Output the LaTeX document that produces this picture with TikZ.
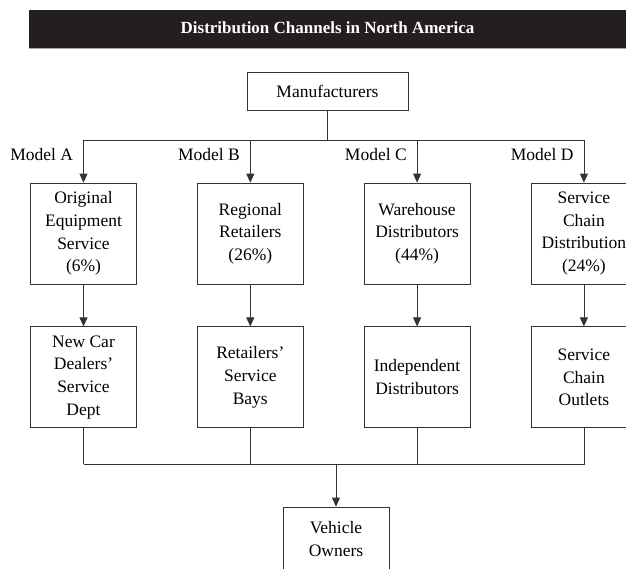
\documentclass[tikz,border=0pt]{standalone}
\usepackage{fontspec}
\setmainfont{Liberation Serif}
\usetikzlibrary{arrows.meta,positioning}
\definecolor{titlebar}{HTML}{231F20}
\begin{document}
\begin{tikzpicture}[x=1pt,y=-1pt]
        \tikzset{
            box/.style={draw=black!80, line width=0.8pt, align=center, inner sep=2pt,
              minimum width=106pt, minimum height=101pt,
              font=\fontsize{17.5}{22.6}\selectfont},
            wire/.style={draw=black!80, line width=0.8pt},
            arr/.style={wire, -{Triangle[width=8pt,length=9pt]}},
            model/.style={left=9pt, inner sep=1pt, font=\fontsize{17.5}{21}\selectfont}
          }
        \useasboundingbox (0,0) rectangle (626,568);

        \fill[titlebar] (29,10) rectangle (626,48);
        \draw[black!35, line width=1pt] (29,48.5) -- (626,48.5);
        \node[text=white, font=\bfseries\fontsize{17}{20}\selectfont] (title) at (327.5,27.5)
            {Distribution Channels in North America};

        \node[box, minimum width=161pt, minimum height=38pt] (manu) at (327.5,91) {Manufacturers};

        \node[box] (oes) at (83.5,233.5) {Original\\Equipment\\Service\\(6\%)};
        \node[box, right=60pt of oes] (regret) {Regional\\Retailers\\(26\%)};
        \node[box, right=60pt of regret] (whdist) {Warehouse\\Distributors\\(44\%)};
        \node[box, right=60pt of whdist] (scdist) {Service\\Chain\\Distribution\\(24\%)};

        \node[box, below=42pt of oes] (dealers) {New Car\\Dealers’\\Service\\Dept};
        \node[box, below=42pt of regret] (bays) {Retailers’\\Service\\Bays};
        \node[box, below=42pt of whdist] (indep) {Independent\\Distributors};
        \node[box, below=42pt of scdist] (outlets) {Service\\Chain\\Outlets};

        \node[box, minimum height=64pt] (owners) at (336,539) {Vehicle\\Owners};

        \draw[wire] (manu.south) -- ++(0,30) coordinate (fork);
        \draw[wire] (oes.north |- fork) -- (scdist.north |- fork);
        \draw[arr] (oes.north |- fork) -- node[model, pos=0.33] (ma) {Model A} (oes.north);
        \draw[arr] (regret.north |- fork) -- node[model, pos=0.33] (mb) {Model B} (regret.north);
        \draw[arr] (whdist.north |- fork) -- node[model, pos=0.33] (mc) {Model C} (whdist.north);
        \draw[arr] (scdist.north |- fork) -- node[model, pos=0.33] (md) {Model D} (scdist.north);

        \draw[arr] (oes) -- (dealers);
        \draw[arr] (regret) -- (bays);
        \draw[arr] (whdist) -- (indep);
        \draw[arr] (scdist) -- (outlets);

        \draw[wire] (dealers.south) -- ++(0,36) coordinate (join);
        \draw[wire] (join) -- (outlets.south |- join) -- (outlets.south);
        \draw[wire] (bays.south) -- (bays.south |- join);
        \draw[wire] (indep.south) -- (indep.south |- join);
        \draw[arr] (owners.north |- join) -- (owners.north);
    \end{tikzpicture}
\end{document}
